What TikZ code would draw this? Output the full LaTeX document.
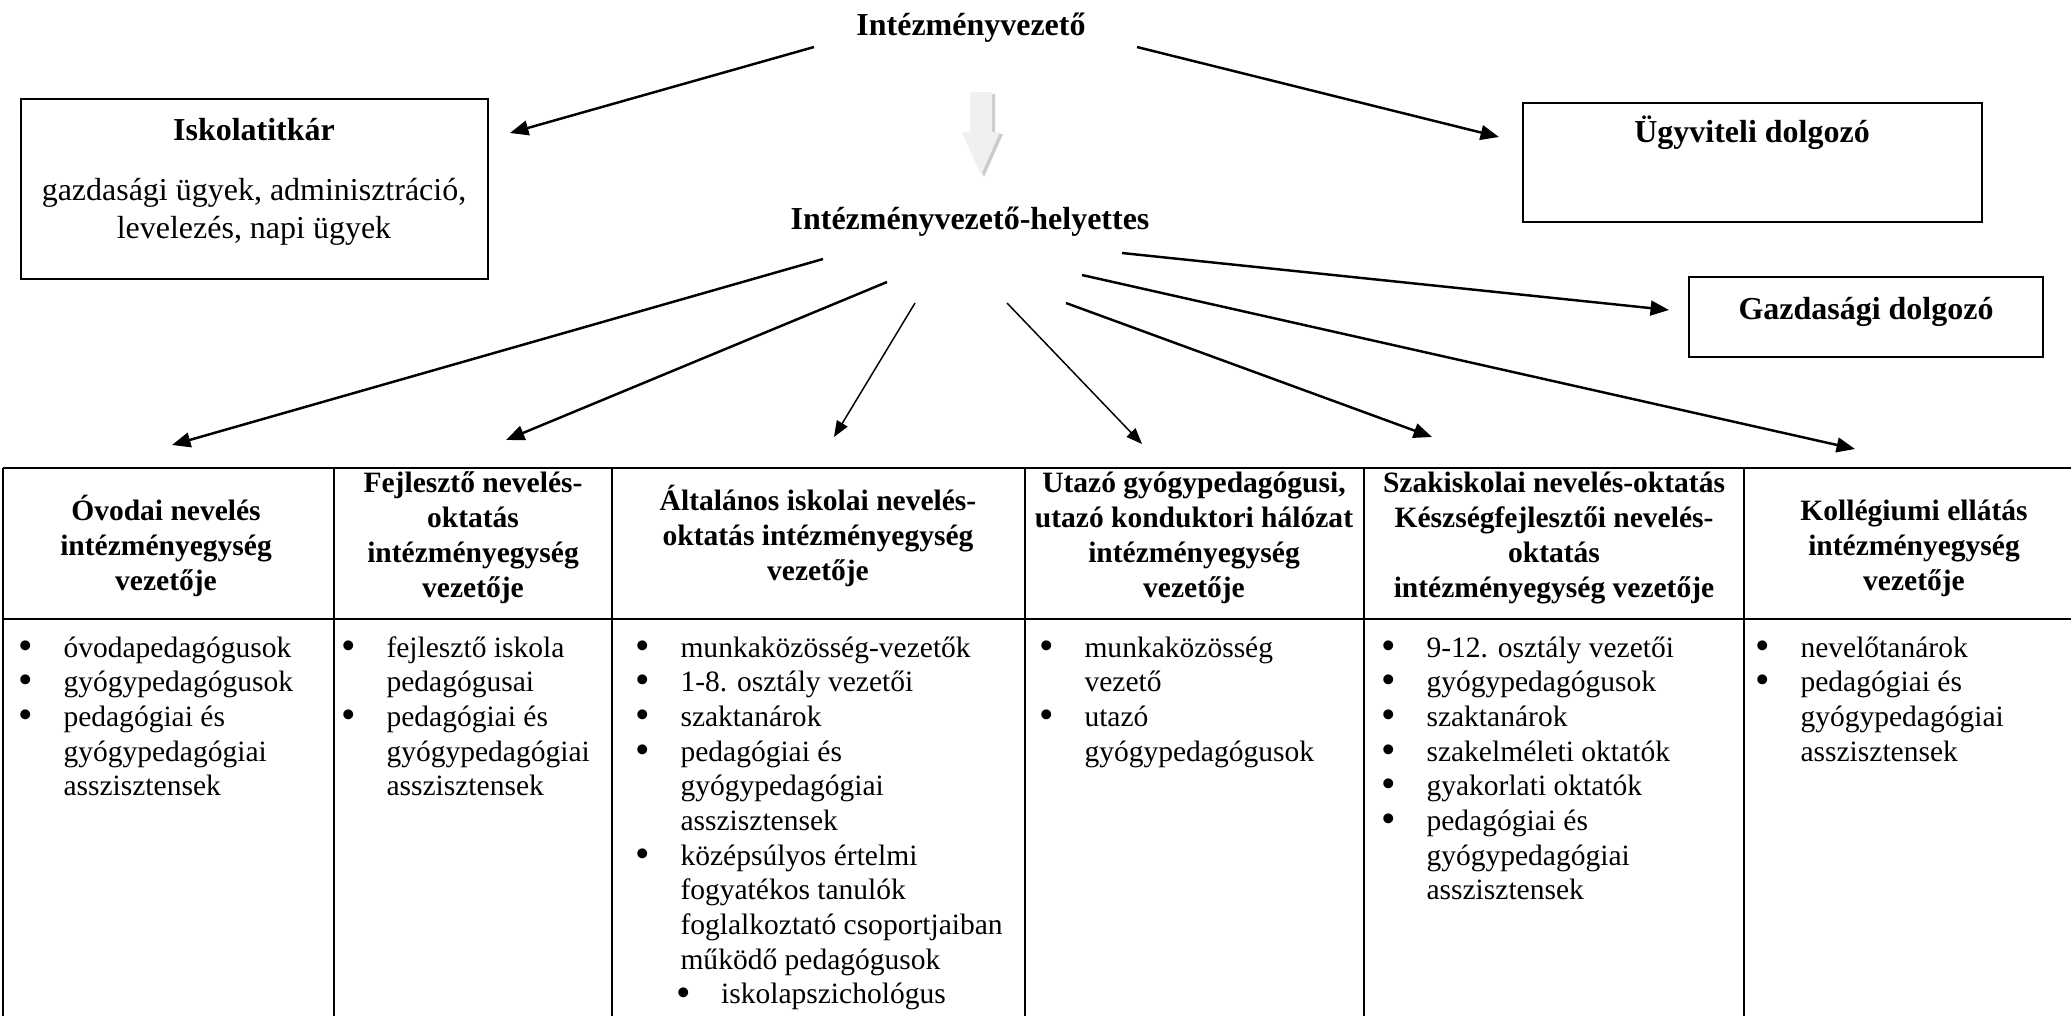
\documentclass[tikz,border=0pt]{standalone}
\usepackage{fontspec}
\usepackage{graphicx}
\setmainfont{Liberation Serif}
\usetikzlibrary{arrows.meta,fit}
\newcommand{\blt}{\makebox[18.3pt][l]{\raisebox{-0.9pt}{\scalebox{1.4}{\textbullet}}}}
\newcommand{\bind}{\hspace*{18.3pt}}

\begin{document}
\begin{tikzpicture}[x=0.4065pt, y=0.4065pt,
  ttl/.style={font=\fontsize{13}{15.4}\selectfont\bfseries, inner sep=0pt},
  txt/.style={font=\fontsize{13}{15.4}\selectfont, align=center, inner sep=0pt},
  box/.style={draw, line width=0.8pt, inner sep=0pt},
  head/.style={font=\fontsize{12}{14.2}\selectfont\bfseries, align=center, inner sep=0pt},
  list/.style={font=\fontsize{12}{14.1}\selectfont, anchor=base west, inner sep=0pt},
  arr/.style={-{Triangle[length=7.5pt,width=6pt]}, line width=1pt},
  thinarr/.style={-{Triangle[length=6.5pt,width=5pt]}, line width=0.6pt},
  rule/.style={line width=1.1pt},
  sep/.style={line width=0.7pt}]
\useasboundingbox (0,0) rectangle (2071,-1016);

% leaders
\node[ttl] (ivez) at (971,-28) {Intézményvezető};
\node[ttl] (hely) at (970,-222) {Intézményvezető-helyettes};

% side boxes
\node[box, fit={(21,-99) (488,-279)}] (isk) {};
\node[ttl] (iskt) at (254,-130) {Iskolatitkár};
\node[txt] (iskd) at (254,-212) {gazdasági ügyek, adminisztráció,\\levelezés, napi ügyek};
\node[box, fit={(1523,-103) (1982,-222)}] (ugy) {};
\node[ttl] (ugyt) at (1752,-133) {Ügyviteli dolgozó};
\node[box, fit={(1689,-277) (2043,-357)}] (gazd) {};
\node[ttl] (gazdt) at (1866,-312) {Gazdasági dolgozó};

% block arrow between the two leaders
\coordinate (blk) at (981,-92);
\begin{scope}[shift={(blk)}]
  \fill[gray!40] (-8,-2) -- (14,-2) -- (14,-42) -- (22,-42) -- (3,-85) -- (-16,-42) -- (-8,-42) -- cycle;
  \fill[gray!12] (-11,0) -- (11,0) -- (11,-40) -- (19,-40) -- (0,-83) -- (-19,-40) -- (-11,-40) -- cycle;
\end{scope}

% table
\draw[rule] (3,-468) -- (2071,-468);
\draw[rule] (3,-619) -- (2071,-619);
\foreach \x in {3,334,612,1025,1364,1744}
  \draw[sep] (\x,-468) -- (\x,-1016);

\node[head] (h1) at (166,-546) {Óvodai nevelés\\intézményegység\\vezetője};
\node[head] (h2) at (473,-538) {Fejlesztő nevelés-\\oktatás\\intézményegység\\vezetője};
\node[head] (h3) at (818,-536) {Általános iskolai nevelés-\\oktatás intézményegység\\vezetője};
\node[head] (h4) at (1194,-538) {Utazó gyógypedagógusi,\\utazó konduktori hálózat\\intézményegység\\vezetője};
\node[head] (h5) at (1554,-538) {Szakiskolai nevelés-oktatás\\Készségfejlesztői nevelés-\\oktatás\\intézményegység vezetője};
\node[head] (h6) at (1914,-548) {Kollégiumi ellátás\\intézményegység\\vezetője};

\node[list] (l1) at (18,-657) {\begin{tabular}[t]{@{}l@{}}
  \blt óvodapedagógusok\\ \blt gyógypedagógusok\\ \blt pedagógiai és\\
  \bind gyógypedagógiai\\ \bind asszisztensek\end{tabular}};
\node[list] (l2) at (341,-657) {\begin{tabular}[t]{@{}l@{}}
  \blt fejlesztő iskola\\ \bind pedagógusai\\ \blt pedagógiai és\\
  \bind gyógypedagógiai\\ \bind asszisztensek\end{tabular}};
\node[list] (l3) at (635,-657) {\begin{tabular}[t]{@{}l@{}}
  \blt munkaközösség-vezetők\\ \blt 1-8. osztály vezetői\\ \blt szaktanárok\\
  \blt pedagógiai és\\ \bind gyógypedagógiai\\ \bind asszisztensek\\
  \blt középsúlyos értelmi\\ \bind fogyatékos tanulók\\ \bind foglalkoztató csoportjaiban\\
  \bind működő pedagógusok\\ \hspace*{16.5pt}\blt iskolapszichológus\end{tabular}};
\node[list] (l4) at (1039,-657) {\begin{tabular}[t]{@{}l@{}}
  \blt munkaközösség\\ \bind vezető\\ \blt utazó\\ \bind gyógypedagógusok\end{tabular}};
\node[list] (l5) at (1381,-657) {\begin{tabular}[t]{@{}l@{}}
  \blt 9-12. osztály vezetői\\ \blt gyógypedagógusok\\ \blt szaktanárok\\
  \blt szakelméleti oktatók\\ \blt gyakorlati oktatók\\ \blt pedagógiai és\\
  \bind gyógypedagógiai\\ \bind asszisztensek\end{tabular}};
\node[list] (l6) at (1755,-657) {\begin{tabular}[t]{@{}l@{}}
  \blt nevelőtanárok\\ \blt pedagógiai és\\ \bind gyógypedagógiai\\
  \bind asszisztensek\end{tabular}};

% arrow ends
\coordinate (s-isk) at (814,-47);   \coordinate (t-isk) at (510,-133);
\coordinate (s-ugy) at (1137,-47);  \coordinate (t-ugy) at (1499,-137);
\coordinate (s1) at (823,-259);  \coordinate (t1) at (172,-445);
\coordinate (s2) at (887,-282);  \coordinate (t2) at (506,-440);
\coordinate (s3) at (915,-303);  \coordinate (t3) at (834,-437);
\coordinate (s4) at (1007,-303); \coordinate (t4) at (1142,-444);
\coordinate (s5) at (1066,-303); \coordinate (t5) at (1432,-437);
\coordinate (s6) at (1082,-275); \coordinate (t6) at (1855,-449);
\coordinate (s7) at (1122,-253); \coordinate (t7) at (1669,-310);

\foreach \s/\t in {s-isk/t-isk, s-ugy/t-ugy, s1/t1, s2/t2, s5/t5, s6/t6, s7/t7}
  \draw[arr] (\s) -- (\t);
\draw[thinarr] (s3) -- (t3);
\draw[thinarr] (s4) -- (t4);
\end{tikzpicture}
\end{document}
